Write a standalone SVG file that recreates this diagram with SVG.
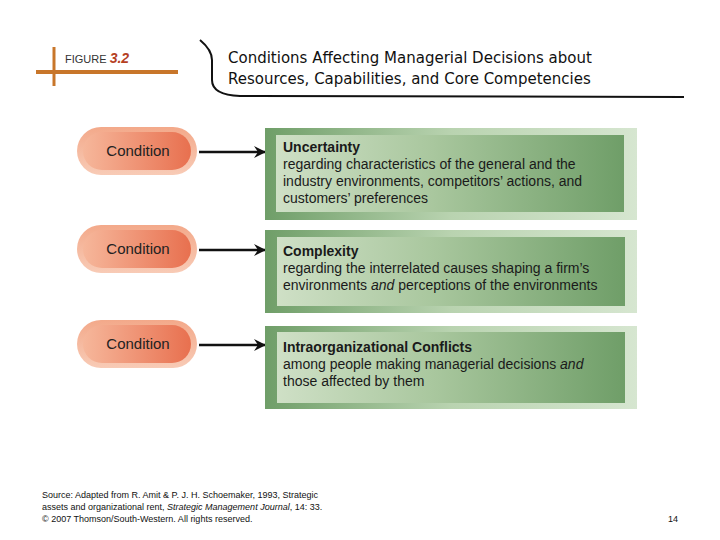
<svg xmlns="http://www.w3.org/2000/svg" width="720" height="540" viewBox="0 0 720 540">
<defs>
<linearGradient id="pill" x1="0" y1="0" x2="1" y2="0"><stop offset="0" stop-color="#f6b79b"/><stop offset="1" stop-color="#e8704f"/></linearGradient>
<linearGradient id="pillo" x1="0" y1="0" x2="0" y2="1"><stop offset="0" stop-color="#f3a98a"/><stop offset="1" stop-color="#f8cbb6"/></linearGradient>
<linearGradient id="inner" x1="0" y1="0" x2="1" y2="0"><stop offset="0" stop-color="#cfe0c6"/><stop offset="0.45" stop-color="#a9c79e"/><stop offset="1" stop-color="#6f9e68"/></linearGradient>
<linearGradient id="outer" x1="0" y1="0" x2="1" y2="0"><stop offset="0" stop-color="#6f9e68"/><stop offset="0.5" stop-color="#b9d3b0"/><stop offset="1" stop-color="#d6e6d0"/></linearGradient>
<marker id="ah" markerWidth="12" markerHeight="12" refX="11" refY="6" orient="auto" markerUnits="userSpaceOnUse"><path d="M0,0 L12,6 L0,12 L4,6 z" fill="#111"/></marker>
<style>
.pt{font-family:"Liberation Sans",Arial,sans-serif;font-size:15px;fill:#222;text-anchor:middle}
.bt{font-family:"Liberation Sans",Arial,sans-serif;font-size:14px;fill:#1a1a1a}
.bh{font-weight:bold}
.src{font-family:"Liberation Sans",Arial,sans-serif;font-size:9px;fill:#111}
.arr{stroke:#111;stroke-width:2.5;fill:none;marker-end:url(#ah)}
</style>
</defs>
<rect width="720" height="540" fill="#fff"/>
<g id="header">
<line x1="36" y1="72" x2="178" y2="72" stroke="#c8762a" stroke-width="4"/>
<line x1="54" y1="47" x2="54" y2="86" stroke="#c8762a" stroke-width="3"/>
<text x="65" y="63" font-family="'Liberation Sans',Arial,sans-serif" font-size="11" fill="#333">FIGURE <tspan font-weight="bold" font-style="italic" font-size="14" fill="#b5401f">3.2</tspan></text>
<path d="M200,40 Q212,50 212,60 L212,80 Q212,95 240,96 L684,97" fill="none" stroke="#111" stroke-width="2"/>
<text x="228" y="63" font-family="'DejaVu Sans',Verdana,sans-serif" font-size="15" fill="#111">Conditions Affecting Managerial Decisions about</text>
<text x="228" y="84" font-family="'DejaVu Sans',Verdana,sans-serif" font-size="15" fill="#111">Resources, Capabilities, and Core Competencies</text>
</g>
<g id="c1"><rect x="77" y="127" width="120" height="48" rx="24" fill="url(#pillo)"/><rect x="83" y="132" width="108" height="38" rx="19" fill="url(#pill)"/><text class="pt" x="138" y="156">Condition</text></g>
<g id="c2"><rect x="77" y="225" width="120" height="48" rx="24" fill="url(#pillo)"/><rect x="83" y="230" width="108" height="38" rx="19" fill="url(#pill)"/><text class="pt" x="138" y="254">Condition</text></g>
<g id="c3"><rect x="77" y="320" width="120" height="48" rx="24" fill="url(#pillo)"/><rect x="83" y="325" width="108" height="38" rx="19" fill="url(#pill)"/><text class="pt" x="138" y="349">Condition</text></g>
<g id="connectors">
<line class="arr" x1="199" y1="152" x2="265" y2="152"/>
<line class="arr" x1="199" y1="250" x2="265" y2="250"/>
<line class="arr" x1="199" y1="345" x2="265" y2="345"/>
</g>
<g id="b1"><rect x="265" y="128" width="372" height="92" fill="url(#outer)"/><rect x="276" y="135" width="348" height="77" fill="url(#inner)"/>
<text class="bt" x="283" y="152"><tspan class="bh">Uncertainty</tspan><tspan x="283" dy="17">regarding characteristics of the general and the</tspan><tspan x="283" dy="17">industry environments, competitors’ actions, and</tspan><tspan x="283" dy="17">customers’ preferences</tspan></text></g>
<g id="b2"><rect x="265" y="230" width="372" height="83" fill="url(#outer)"/><rect x="277" y="237" width="348" height="69" fill="url(#inner)"/>
<text class="bt" x="283" y="256"><tspan class="bh">Complexity</tspan><tspan x="283" dy="17">regarding the interrelated causes shaping a firm’s</tspan><tspan x="283" dy="17">environments <tspan font-style="italic">and</tspan> perceptions of the environments</tspan></text></g>
<g id="b3"><rect x="265" y="326" width="372" height="83" fill="url(#outer)"/><rect x="277" y="332" width="348" height="71" fill="url(#inner)"/>
<text class="bt" x="283" y="352"><tspan class="bh">Intraorganizational Conflicts</tspan><tspan x="283" dy="17">among people making managerial decisions <tspan font-style="italic">and</tspan></tspan><tspan x="283" dy="17">those affected by them</tspan></text></g>
<g id="footer">
<text class="src" x="42" y="498">Source: Adapted from R. Amit &amp; P. J. H. Schoemaker, 1993, Strategic</text>
<text class="src" x="42" y="510">assets and organizational rent, <tspan font-style="italic">Strategic Management Journal</tspan>, 14: 33.</text>
<text class="src" x="42" y="522">© 2007 Thomson/South-Western. All rights reserved.</text>
<text class="src" x="668" y="522">14</text>
</g>
</svg>
